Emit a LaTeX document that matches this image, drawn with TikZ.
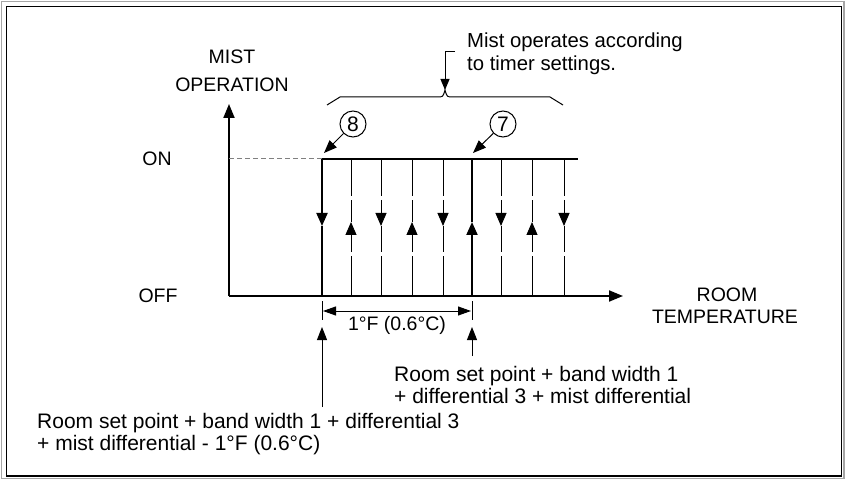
\documentclass[tikz,border=0pt]{standalone}
\usepackage{fontspec}
\setmainfont{Liberation Sans}
\usetikzlibrary{arrows.meta}
\begin{document}
\begin{tikzpicture}[x=1pt,y=-1pt,
  axtip/.style={-{Triangle[length=14pt,width=11pt]}},
  midtip/.style={-{Triangle[length=13pt,width=11pt]}},
  smalltip/.style={-{Triangle[length=13pt,width=10pt]}},
  heavy/.style={line width=2pt},
  light/.style={line width=1pt},
  lbl/.style={inner sep=0pt, font=\fontsize{19.5}{23}\selectfont},
  toplbl/.style={inner sep=0pt, font=\fontsize{20.3}{23}\selectfont},
  big/.style={inner sep=0pt, font=\fontsize{21}{23}\selectfont},
  num/.style={circle, draw, line width=1pt, minimum size=26pt, inner sep=0pt, font=\fontsize{21}{23}\selectfont}
]
\useasboundingbox (0,0) rectangle (846,481);
\draw[gray!70, line width=1.5pt] (1.5,1.5) rectangle (844,478.5);
\draw[black, line width=1.2pt] (6.5,6.5) rectangle (841.5,476);

% axes
\coordinate (O) at (229,296);
\coordinate (Ytop) at (229,104);
\coordinate (Xend) at (623,296);
\draw[heavy, axtip] (O) -- (Ytop);
\draw[heavy, axtip] (O) -- (Xend);

% ON level
\coordinate (on0) at (229,159);
\coordinate (A) at (322,159);
\coordinate (B) at (472,159);
\coordinate (E) at (578,159);
\coordinate (Ab) at (322,296);
\coordinate (Bb) at (472,296);
\draw[gray, line width=1pt, dash pattern=on 5pt off 3pt] (on0) -- (A);
\draw[heavy] (A) -- (E);

% thick verticals
\coordinate (Aarr) at (322,226);
\coordinate (Barr) at (472,222);
\draw[heavy, midtip] (A) -- (Aarr);
\draw[heavy] (Aarr) -- (Ab);
\draw[heavy, midtip] (Bb) -- (Barr);
\draw[heavy] (Barr) -- (B);

% thin verticals, down (long dashes with two small breaks)
\foreach \x in {381,443,501,564}{
  \draw[light] (\x,159) -- (\x,196);
  \draw[light, midtip] (\x,200) -- (\x,226);
  \draw[light] (\x,226) -- (\x,252);
  \draw[light] (\x,256) -- (\x,296);
}
% thin verticals, up
\foreach \x in {351,412,532}{
  \draw[light] (\x,296) -- (\x,256);
  \draw[light, midtip] (\x,252) -- (\x,222);
  \draw[light] (\x,222) -- (\x,200);
  \draw[light] (\x,196) -- (\x,159);
}

% circled numbers
\node[num] (c8) at (353,124) {8};
\node[num] (c7) at (503,124) {7};
\coordinate (p8) at (324,153);
\coordinate (p7) at (473,153);
\draw[light, smalltip] (c8) -- (p8);
\draw[light, smalltip] (c7) -- (p7);

% brace
\coordinate (cusp) at (445,90);
\draw[light] (327,105) -- (340,97) -- (437,97) .. controls (443,97) .. (cusp)
  .. controls (447,97) .. (453,97) -- (550,97) -- (563,105);
\coordinate (m1) at (455,52);
\coordinate (m2) at (445,52);
\draw[light, -{Triangle[length=11pt,width=9pt]}] (m1) -- (m2) -- (cusp);
\node[toplbl, anchor=base west] (t1) at (467,48) {Mist operates according};
\node[toplbl, anchor=base west] (t2) at (467,71) {to timer settings.};

% axis labels
\node[lbl, anchor=base] (ym1) at (232,64) {MIST};
\node[lbl, anchor=base] (ym2) at (232,92) {OPERATION};
\node[lbl, anchor=base] (on) at (157,166) {ON};
\node[lbl, anchor=base] (off) at (158,302) {OFF};
\node[lbl, anchor=base] (xr1) at (727,301) {ROOM};
\node[lbl, anchor=base] (xr2) at (725,323) {TEMPERATURE};

% dimension
\coordinate (k1a) at (322,301);
\coordinate (k1b) at (322,320);
\coordinate (k2a) at (472,301);
\coordinate (k2b) at (472,320);
\draw[light] (k1a) -- (k1b);
\draw[light] (k2a) -- (k2b);
\coordinate (d1) at (323,311);
\coordinate (d2) at (471,311);
\draw[light, {Triangle[length=13pt,width=9pt]}-{Triangle[length=13pt,width=9pt]}] (d1) -- (d2);
\node[lbl, anchor=base] (dim) at (397,330) {1°F (0.6°C)};

% pointer arrows
\coordinate (u1a) at (322,407);
\coordinate (u1b) at (322,327);
\coordinate (u2a) at (472,356);
\coordinate (u2b) at (472,327);
\draw[light, smalltip] (u1a) -- (u1b);
\draw[light, smalltip] (u2a) -- (u2b);

\node[big, anchor=base west] (r1) at (394,381) {Room set point + band width 1};
\node[big, anchor=base west] (r2) at (394,403) {+ differential 3 + mist differential};
\node[big, anchor=base west] (l1) at (37,428) {Room set point + band width 1 + differential 3};
\node[big, anchor=base west] (l2) at (37,450) {+ mist differential - 1°F (0.6°C)};
\end{tikzpicture}
\end{document}
